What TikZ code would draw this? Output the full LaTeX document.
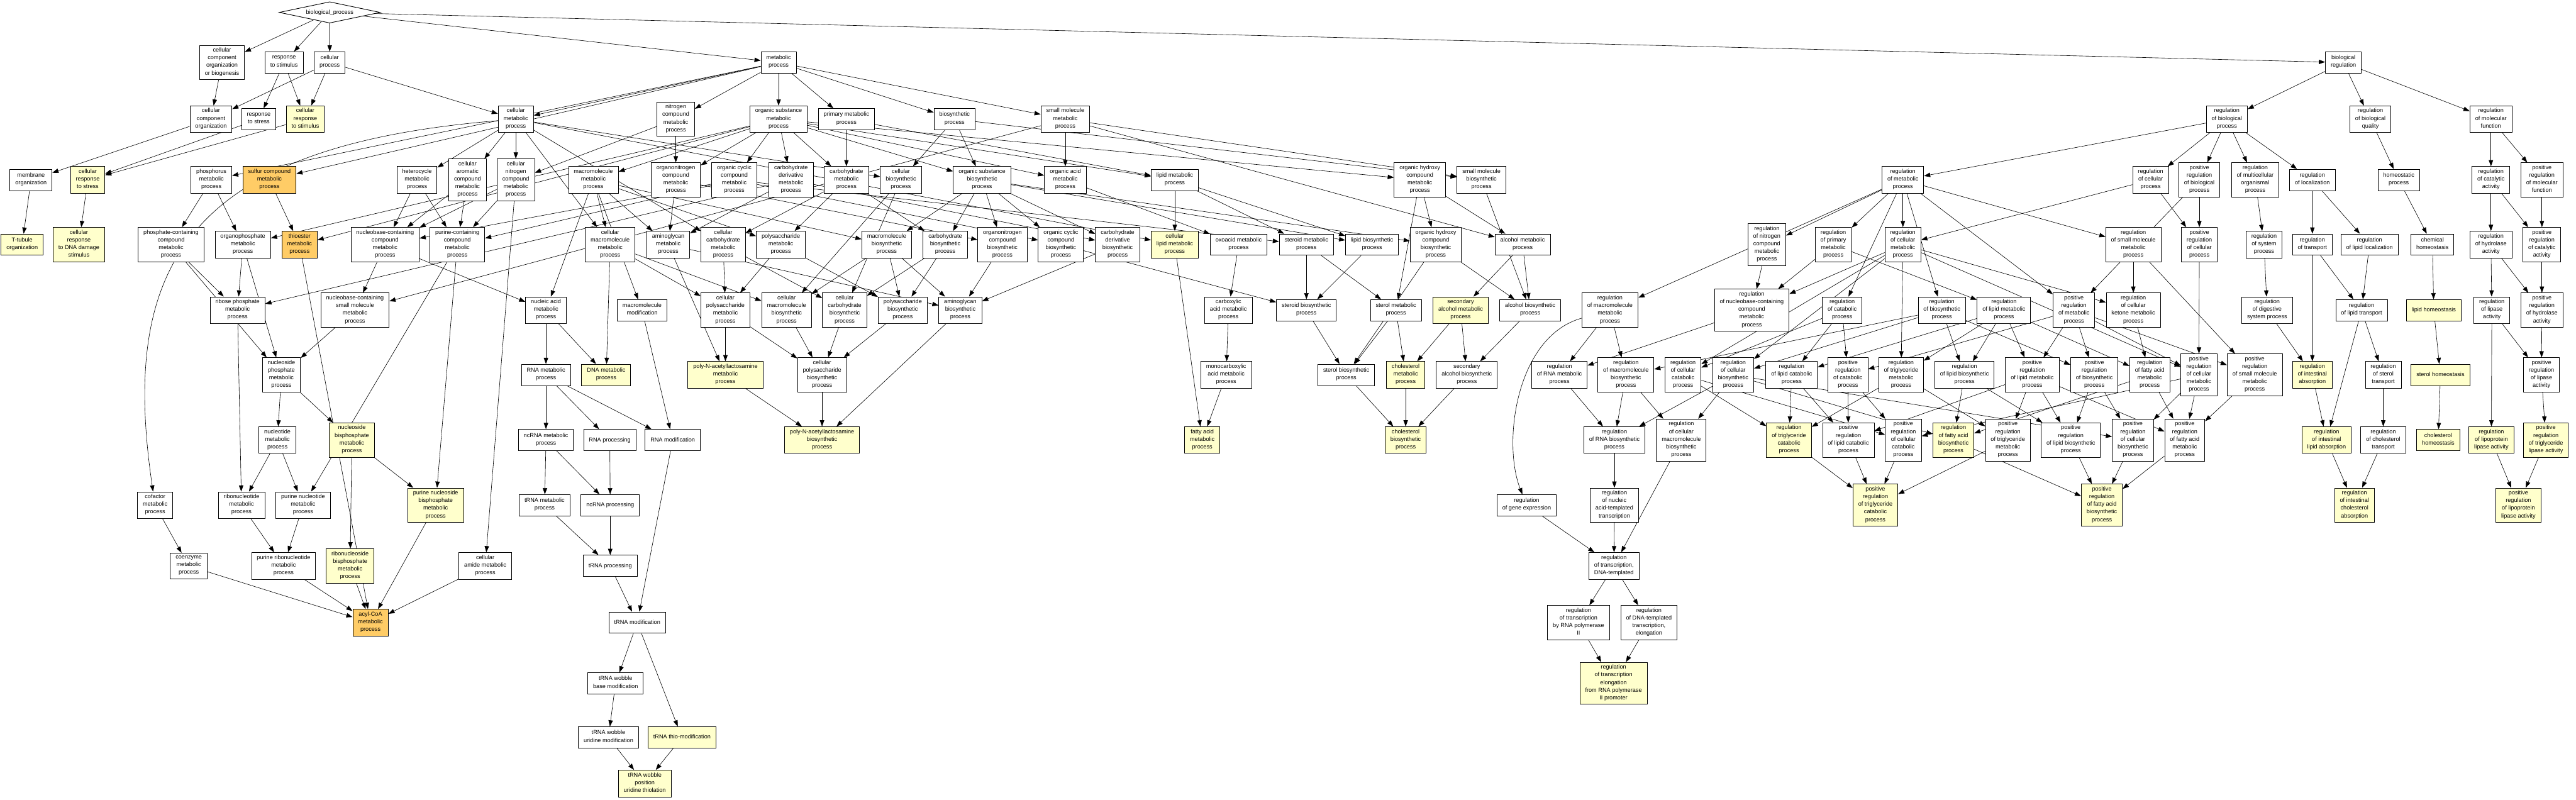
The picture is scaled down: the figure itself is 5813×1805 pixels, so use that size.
\documentclass[tikz,border=0pt]{standalone}
\usepackage{fontspec}
\newfontfamily\gofont{Liberation Sans}
\usetikzlibrary{arrows.meta,shapes.geometric,backgrounds}
\definecolor{goyel}{HTML}{FFFFCC}
\definecolor{goorg}{HTML}{FFCC66}
\begin{document}
\begin{tikzpicture}[x=1pt,y=-1pt,
 box/.style={draw, line width=1.3pt, fill=white, font={\gofont\fontsize{13}{17.3}\selectfont}, align=center, inner xsep=12pt, inner ysep=5.5pt, minimum height=48pt, execute at begin node=\strut, execute at end node=\strut},
 yel/.style={box, fill=goyel}, org/.style={box, fill=goorg},
 arr/.style={line width=0.9pt, -{Triangle[length=14pt,width=10pt]}}]
\begin{scope}[on background layer]
\fill[white] (0,0) rectangle (5813,1805);
\end{scope}
\useasboundingbox (0,0) rectangle (5813,1805);
% L0
\node[draw, diamond, aspect=4.75, line width=1.3pt, fill=white, minimum width=228pt, minimum height=48pt, inner sep=0pt, font={\gofont\fontsize{13}{17.3}\selectfont}] (bp) at (744,28) {biological\_process};
% L1
\node[box] (ccob) at (501,141) {cellular\\component\\organization\\or biogenesis};
\node[box] (rts) at (641,141) {response\\to stimulus};
\node[box] (cp) at (744,141) {cellular\\process};
\node[box] (mp) at (1757,141) {metabolic\\process};
\node[box] (breg) at (5288,141) {biological\\regulation};
% L2
\node[box] (cco) at (476,269) {cellular\\component\\organization};
\node[box] (rtstress) at (584,269) {response\\to stress};
\node[yel] (crts) at (689,269) {cellular\\response\\to stimulus};
\node[box] (cmp) at (1164,269) {cellular\\metabolic\\process};
\node[box] (ncmp) at (1525,269) {nitrogen\\compound\\metabolic\\process};
\node[box] (osmp) at (1757,269) {organic substance\\metabolic\\process};
\node[box] (pmp) at (1910,269) {primary metabolic\\process};
\node[box] (bsp) at (2154,269) {biosynthetic\\process};
\node[box] (smmp) at (2404,269) {small molecule\\metabolic\\process};
\node[box] (rbp) at (5025,269) {regulation\\of biological\\process};
\node[box] (rbq) at (5349,269) {regulation\\of biological\\quality};
\node[box] (rmf) at (5621,269) {regulation\\of molecular\\function};
% L3
\node[box] (memorg) at (70,406) {membrane\\organization};
\node[yel] (crstress) at (198,406) {cellular\\response\\to stress};
\node[box] (phosmp) at (477,406) {phosphorus\\metabolic\\process};
\node[org] (sulfmp) at (608,406) {sulfur compound\\metabolic\\process};
\node[box] (hetmp) at (941,406) {heterocycle\\metabolic\\process};
\node[box] (caromp) at (1055,406) {cellular\\aromatic\\compound\\metabolic\\process};
\node[box] (cncmp) at (1164,406) {cellular\\nitrogen\\compound\\metabolic\\process};
\node[box] (macmp) at (1339,406) {macromolecule\\metabolic\\process};
\node[box] (onmp) at (1525,406) {organonitrogen\\compound\\metabolic\\process};
\node[box] (ocmp) at (1657,406) {organic cyclic\\compound\\metabolic\\process};
\node[box] (cdmp) at (1785,406) {carbohydrate\\derivative\\metabolic\\process};
\node[box] (carbmp) at (1910,406) {carbohydrate\\metabolic\\process};
\node[box] (cbsp) at (2033,406) {cellular\\biosynthetic\\process};
\node[box] (osbp) at (2216,406) {organic substance\\biosynthetic\\process};
\node[box] (oamp) at (2404,406) {organic acid\\metabolic\\process};
\node[box] (lipmp) at (2651,406) {lipid metabolic\\process};
\node[box] (ohcmp) at (3204,406) {organic hydroxy\\compound\\metabolic\\process};
\node[box] (smbp) at (3343,406) {small molecule\\biosynthetic\\process};
\node[box] (rmp) at (4294,406) {regulation\\of metabolic\\process};
\node[box] (rcp) at (4853,406) {regulation\\of cellular\\process};
\node[box] (prbp) at (4963,406) {positive\\regulation\\of biological\\process};
\node[box] (rmop) at (5089,406) {regulation\\of multicellular\\organismal\\process};
\node[box] (rloc) at (5218,406) {regulation\\of localization};
\node[box] (homeo) at (5413,406) {homeostatic\\process};
\node[box] (rcat) at (5621,406) {regulation\\of catalytic\\activity};
\node[box] (prmf) at (5736,406) {positive\\regulation\\of molecular\\function};
% L4
\node[yel] (ttub) at (50,552) {T-tubule\\organization};
\node[yel] (crdna) at (178,552) {cellular\\response\\to DNA damage\\stimulus};
\node[box] (pccmp) at (386,552) {phosphate-containing\\compound\\metabolic\\process};
\node[box] (opmp) at (548,552) {organophosphate\\metabolic\\process};
\node[org] (thiomp) at (676,552) {thioester\\metabolic\\process};
\node[box] (nbccmp) at (869,552) {nucleobase-containing\\compound\\metabolic\\process};
\node[box] (purcmp) at (1032,552) {purine-containing\\compound\\metabolic\\process};
\node[box] (cmacmp) at (1377,552) {cellular\\macromolecule\\metabolic\\process};
\node[box] (amgmp) at (1508,552) {aminoglycan\\metabolic\\process};
\node[box] (ccarbmp) at (1632,552) {cellular\\carbohydrate\\metabolic\\process};
\node[box] (polysmp) at (1762,552) {polysaccharide\\metabolic\\process};
\node[box] (macbp) at (2001,552) {macromolecule\\biosynthetic\\process};
\node[box] (carbbp) at (2133,552) {carbohydrate\\biosynthetic\\process};
\node[box] (onbp) at (2262,552) {organonitrogen\\compound\\biosynthetic\\process};
\node[box] (ocbp) at (2394,552) {organic cyclic\\compound\\biosynthetic\\process};
\node[box] (cdbp) at (2522,552) {carbohydrate\\derivative\\biosynthetic\\process};
\node[yel] (clipmp) at (2651,552) {cellular\\lipid metabolic\\process};
\node[box] (oxomp) at (2795,552) {oxoacid metabolic\\process};
\node[box] (stdmp) at (2948,552) {steroid metabolic\\process};
\node[box] (lipbp) at (3096,552) {lipid biosynthetic\\process};
\node[box] (ohcbp) at (3240,552) {organic hydroxy\\compound\\biosynthetic\\process};
\node[box] (alcmp) at (3436,552) {alcohol metabolic\\process};
\node[box] (rnitro) at (3987,552) {regulation\\of nitrogen\\compound\\metabolic\\process};
\node[box] (rprim) at (4137,552) {regulation\\of primary\\metabolic\\process};
\node[box] (rcellmp) at (4294,552) {regulation\\of cellular\\metabolic\\process};
\node[box] (rsmmp) at (4814,552) {regulation\\of small molecule\\metabolic\\process};
\node[box] (prcp) at (4963,552) {positive\\regulation\\of cellular\\process};
\node[box] (rsys) at (5109,552) {regulation\\of system\\process};
\node[box] (rtrans) at (5218,552) {regulation\\of transport};
\node[box] (rlipl) at (5347,552) {regulation\\of lipid localization};
\node[box] (chemh) at (5489,552) {chemical\\homeostasis};
\node[box] (rhyd) at (5621,552) {regulation\\of hydrolase\\activity};
\node[box] (prcat) at (5736,552) {positive\\regulation\\of catalytic\\activity};
% L5
\node[box] (ribpmp) at (536,700) {ribose phosphate\\metabolic\\process};
\node[box] (nbcsmmp) at (801,700) {nucleobase-containing\\small molecule\\metabolic\\process};
\node[box] (namp) at (1232,700) {nucleic acid\\metabolic\\process};
\node[box] (macmod) at (1449,700) {macromolecule\\modification};
\node[box] (cpolysmp) at (1637,700) {cellular\\polysaccharide\\metabolic\\process};
\node[box] (cmacbp) at (1775,700) {cellular\\macromolecule\\biosynthetic\\process};
\node[box] (ccarbbp) at (1906,700) {cellular\\carbohydrate\\biosynthetic\\process};
\node[box] (polysbp) at (2037,700) {polysaccharide\\biosynthetic\\process};
\node[box] (amgbp) at (2167,700) {aminoglycan\\biosynthetic\\process};
\node[box] (caamp) at (2772,700) {carboxylic\\acid metabolic\\process};
\node[box] (stdbp) at (2948,700) {steroid biosynthetic\\process};
\node[box] (strmp) at (3150,700) {sterol metabolic\\process};
\node[yel] (salcmp) at (3296,700) {secondary\\alcohol metabolic\\process};
\node[box] (alcbp) at (3453,700) {alcohol biosynthetic\\process};
\node[box] (rmacmp) at (3633,700) {regulation\\of macromolecule\\metabolic\\process};
\node[box] (rnbc) at (3953,700) {regulation\\of nucleobase-containing\\compound\\metabolic\\process};
\node[box] (rcatab) at (4157,700) {regulation\\of catabolic\\process};
\node[box] (rbios) at (4382,700) {regulation\\of biosynthetic\\process};
\node[box] (rlipmp) at (4522,700) {regulation\\of lipid metabolic\\process};
\node[box] (prmp) at (4680,700) {positive\\regulation\\of metabolic\\process};
\node[box] (rcket) at (4814,700) {regulation\\of cellular\\ketone metabolic\\process};
\node[box] (rdig) at (5116,700) {regulation\\of digestive\\system process};
\node[box] (rlipt) at (5329,700) {regulation\\of lipid transport};
\node[yel] (liph) at (5492,700) {lipid homeostasis};
\node[box] (rlipase) at (5623,700) {regulation\\of lipase\\activity};
\node[box] (prhyd) at (5736,700) {positive\\regulation\\of hydrolase\\activity};
% L6
\node[box] (npmp) at (635,846) {nucleoside\\phosphate\\metabolic\\process};
\node[box] (rnamp) at (1232,846) {RNA metabolic\\process};
\node[yel] (dnamp) at (1368,846) {DNA metabolic\\process};
\node[yel] (pnalmp) at (1637,846) {poly-N-acetyllactosamine\\metabolic\\process};
\node[box] (cpolysbp) at (1855,846) {cellular\\polysaccharide\\biosynthetic\\process};
\node[box] (mcamp) at (2767,846) {monocarboxylic\\acid metabolic\\process};
\node[box] (strbp) at (3038,846) {sterol biosynthetic\\process};
\node[yel] (cholmp) at (3172,846) {cholesterol\\metabolic\\process};
\node[box] (salcbp) at (3310,846) {secondary\\alcohol biosynthetic\\process};
\node[box] (rrnamp) at (3519,846) {regulation\\of RNA metabolic\\process};
\node[box] (rmacbp) at (3669,846) {regulation\\of macromolecule\\biosynthetic\\process};
\node[box] (rccatab) at (3798,846) {regulation\\of cellular\\catabolic\\process};
\node[box] (rcbp) at (3911,846) {regulation\\of cellular\\biosynthetic\\process};
\node[box] (rlipcat) at (4043,846) {regulation\\of lipid catabolic\\process};
\node[box] (prcatab) at (4170,846) {positive\\regulation\\of catabolic\\process};
\node[box] (rtgmp) at (4290,846) {regulation\\of triglyceride\\metabolic\\process};
\node[box] (rlipbp) at (4433,846) {regulation\\of lipid biosynthetic\\process};
\node[box] (prlipmp) at (4586,846) {positive\\regulation\\of lipid metabolic\\process};
\node[box] (prbios) at (4726,846) {positive\\regulation\\of biosynthetic\\process};
\node[box] (rfamp) at (4851,846) {regulation\\of fatty acid\\metabolic\\process};
\node[box] (prcellmp) at (4962,846) {positive\\regulation\\of cellular\\metabolic\\process};
\node[box] (prsmmp) at (5088,846) {positive\\regulation\\of small molecule\\metabolic\\process};
\node[yel] (rintabs) at (5218,846) {regulation\\of intestinal\\absorption};
\node[box] (rstrt) at (5378,846) {regulation\\of sterol\\transport};
\node[yel] (strh) at (5507,846) {sterol homeostasis};
\node[box] (prlipase) at (5735,846) {positive\\regulation\\of lipase\\activity};
% L7
\node[box] (ntmp) at (626,993) {nucleotide\\metabolic\\process};
\node[yel] (nbpmp) at (794,993) {nucleoside\\bisphosphate\\metabolic\\process};
\node[box] (ncrnamp) at (1232,993) {ncRNA metabolic\\process};
\node[box] (rnaproc) at (1376,993) {RNA processing};
\node[box] (rnamod) at (1518,993) {RNA modification};
\node[yel] (pnalbp) at (1855,993) {poly-N-acetyllactosamine\\biosynthetic\\process};
\node[yel] (famp) at (2713,993) {fatty acid\\metabolic\\process};
\node[yel] (cholbp) at (3172,993) {cholesterol\\biosynthetic\\process};
\node[box] (rrnabp) at (3643,993) {regulation\\of RNA biosynthetic\\process};
\node[box] (rcmacbp) at (3794,993) {regulation\\of cellular\\macromolecule\\biosynthetic\\process};
\node[yel] (rtgcat) at (4037,993) {regulation\\of triglyceride\\catabolic\\process};
\node[box] (prlipcat) at (4171,993) {positive\\regulation\\of lipid catabolic\\process};
\node[box] (prccatab) at (4295,993) {positive\\regulation\\of cellular\\catabolic\\process};
\node[yel] (rfabp) at (4408,993) {regulation\\of fatty acid\\biosynthetic\\process};
\node[box] (prtgmp) at (4531,993) {positive\\regulation\\of triglyceride\\metabolic\\process};
\node[box] (prlipbp) at (4673,993) {positive\\regulation\\of lipid biosynthetic\\process};
\node[box] (prcbp) at (4813,993) {positive\\regulation\\of cellular\\biosynthetic\\process};
\node[box] (prfamp) at (4930,993) {positive\\regulation\\of fatty acid\\metabolic\\process};
\node[yel] (rintlip) at (5250,993) {regulation\\of intestinal\\lipid absorption};
\node[box] (rcholt) at (5378,993) {regulation\\of cholesterol\\transport};
\node[yel] (cholh) at (5502,993) {cholesterol\\homeostasis};
\node[yel] (rlpl) at (5622,993) {regulation\\of lipoprotein\\lipase activity};
\node[yel] (prtgl) at (5745,993) {positive\\regulation\\of triglyceride\\lipase activity};
% L8
\node[box] (cofmp) at (350,1140) {cofactor\\metabolic\\process};
\node[box] (rntmp) at (545,1140) {ribonucleotide\\metabolic\\process};
\node[box] (pntmp) at (684,1140) {purine nucleotide\\metabolic\\process};
\node[yel] (pnbpmp) at (983,1140) {purine nucleoside\\bisphosphate\\metabolic\\process};
\node[box] (trnamp) at (1229,1140) {tRNA metabolic\\process};
\node[box] (ncrnaproc) at (1377,1140) {ncRNA processing};
\node[box] (rgexp) at (3445,1140) {regulation\\of gene expression};
\node[box] (rnatt) at (3643,1140) {regulation\\of nucleic\\acid-templated\\transcription};
\node[yel] (prtgcat) at (4232,1140) {positive\\regulation\\of triglyceride\\catabolic\\process};
\node[yel] (prfabp) at (4743,1140) {positive\\regulation\\of fatty acid\\biosynthetic\\process};
\node[yel] (rintchol) at (5313,1140) {regulation\\of intestinal\\cholesterol\\absorption};
\node[yel] (prlpl) at (5683,1140) {positive\\regulation\\of lipoprotein\\lipase activity};
% L9
\node[box] (coemp) at (426,1277) {coenzyme\\metabolic\\process};
\node[box] (prnmp) at (640,1277) {purine ribonucleotide\\metabolic\\process};
\node[yel] (rnbpmp) at (790,1277) {ribonucleoside\\bisphosphate\\metabolic\\process};
\node[box] (camp) at (1095,1277) {cellular\\amide metabolic\\process};
\node[box] (trnaproc) at (1377,1277) {tRNA processing};
\node[box] (rtdna) at (3642,1277) {regulation\\of transcription,\\DNA-templated};
% L10
\node[org] (acoa) at (836,1405) {acyl-CoA\\metabolic\\process};
\node[box] (trnamod) at (1438,1405) {tRNA modification};
\node[box] (rtpol) at (3562,1405) {regulation\\of transcription\\by RNA polymerase\\II};
\node[box] (rdtel) at (3721,1405) {regulation\\of DNA-templated\\transcription,\\elongation};
% L11
\node[box] (twbm) at (1389,1542) {tRNA wobble\\base modification};
\node[yel] (rtel) at (3641,1542) {regulation\\of transcription\\elongation\\from RNA polymerase\\II promoter};
% L12
\node[box] (twum) at (1373,1664) {tRNA wobble\\uridine modification};
\node[yel] (ttm) at (1539,1664) {tRNA thio-modification};
% L13
\node[yel] (twput) at (1455,1768) {tRNA wobble\\position\\uridine thiolation};

\begin{scope}[on background layer]
\foreach \a/\b in {bp/ccob,bp/rts,bp/cp,bp/mp,bp/breg,
 ccob/cco,cp/cco,cp/crts,cp/cmp,rts/rtstress,rts/crts,cco/memorg,rtstress/crstress,crts/crstress,memorg/ttub,crstress/crdna,
 mp/cmp,mp/ncmp,mp/osmp,mp/pmp,mp/bsp,mp/smmp,mp/phosmp,mp/sulfmp,
 breg/rbp,breg/rbq,breg/rmf,
 cmp/hetmp,cmp/caromp,cmp/cncmp,cmp/cmacmp,cmp/ccarbmp,cmp/cbsp,cmp/clipmp,
 ncmp/cncmp,ncmp/onmp,
 osmp/macmp,osmp/onmp,osmp/ocmp,osmp/cdmp,osmp/carbmp,osmp/osbp,osmp/oamp,osmp/lipmp,osmp/ohcmp,osmp/opmp,osmp/thiomp,
 pmp/carbmp,pmp/lipmp,bsp/cbsp,bsp/osbp,bsp/smbp,smmp/oamp,smmp/smbp,smmp/alcmp,smmp/nbcsmmp,
 phosmp/pccmp,phosmp/opmp,sulfmp/thiomp,hetmp/nbccmp,hetmp/purcmp,caromp/nbccmp,caromp/purcmp,
 cncmp/nbccmp,cncmp/purcmp,cncmp/camp,ocmp/nbccmp,ocmp/purcmp,ocmp/stdmp,ocmp/ocbp,
 macmp/cmacmp,macmp/amgmp,macmp/polysmp,macmp/macbp,macmp/namp,macmp/macmod,
 onmp/amgmp,onmp/onbp,cdmp/amgmp,cdmp/cdbp,cdmp/ribpmp,carbmp/ccarbmp,carbmp/polysmp,carbmp/carbbp,
 cbsp/cmacbp,cbsp/ccarbbp,osbp/macbp,osbp/carbbp,osbp/onbp,osbp/ocbp,osbp/cdbp,osbp/lipbp,osbp/ohcbp,
 oamp/oxomp,lipmp/clipmp,lipmp/stdmp,lipmp/lipbp,ohcmp/ohcbp,ohcmp/alcmp,ohcmp/strmp,smbp/alcbp,
 rbp/rmp,rbp/rcp,rbp/prbp,rbp/rmop,rbp/rloc,rbq/homeo,rmf/rcat,rmf/prmf,
 rmp/rnitro,rmp/rprim,rmp/rcellmp,rmp/rsmmp,rmp/rmacmp,rmp/rcatab,rmp/rbios,rmp/prmp,
 rcp/rcellmp,rcp/prcp,prbp/prcp,prbp/prmp,rmop/rsys,rloc/rtrans,rloc/rlipl,homeo/chemh,rcat/rhyd,rcat/prcat,prmf/prcat,
 pccmp/ribpmp,pccmp/npmp,opmp/ribpmp,opmp/npmp,thiomp/acoa,nbccmp/nbcsmmp,nbccmp/namp,purcmp/pntmp,purcmp/pnbpmp,
 cmacmp/cpolysmp,cmacmp/cmacbp,cmacmp/dnamp,amgmp/pnalmp,amgmp/amgbp,ccarbmp/cpolysmp,ccarbmp/ccarbbp,
 polysmp/cpolysmp,polysmp/polysbp,macbp/cmacbp,macbp/polysbp,macbp/amgbp,carbbp/ccarbbp,carbbp/polysbp,
 onbp/amgbp,ocbp/stdbp,cdbp/amgbp,clipmp/famp,oxomp/caamp,stdmp/stdbp,stdmp/strmp,lipbp/stdbp,
 ohcbp/alcbp,ohcbp/strbp,alcmp/salcmp,alcmp/alcbp,
 rnitro/rnbc,rprim/rnbc,rprim/rlipmp,rcellmp/rnbc,rcellmp/rcket,rcellmp/rccatab,rcellmp/rcbp,rcellmp/rtgmp,rcellmp/prcellmp,
 rsmmp/rcket,rsmmp/prsmmp,prcp/prcellmp,rsys/rdig,rtrans/rlipt,rtrans/rintabs,rlipl/rlipt,chemh/liph,
 rhyd/rlipase,rhyd/prhyd,prcat/prhyd,
 ribpmp/rntmp,nbcsmmp/npmp,namp/rnamp,namp/dnamp,macmod/rnamod,cpolysmp/pnalmp,cpolysmp/cpolysbp,
 cmacbp/cpolysbp,ccarbbp/cpolysbp,polysbp/cpolysbp,amgbp/pnalbp,caamp/mcamp,stdbp/strbp,strmp/strbp,strmp/cholmp,
 salcmp/cholmp,salcmp/salcbp,alcbp/salcbp,rmacmp/rrnamp,rmacmp/rmacbp,rnbc/rrnamp,
 rcatab/rccatab,rcatab/rlipcat,rcatab/prcatab,rbios/rcbp,rbios/rmacbp,rbios/rlipbp,rbios/prbios,
 rlipmp/rlipcat,rlipmp/rtgmp,rlipmp/rlipbp,rlipmp/prlipmp,rlipmp/rfamp,
 prmp/prcatab,prmp/prlipmp,prmp/prbios,prmp/prcellmp,prmp/prsmmp,rcket/rfamp,rdig/rintabs,rlipt/rstrt,rlipt/rintlip,
 liph/strh,rlipase/prlipase,rlipase/rlpl,prhyd/prlipase,
 npmp/ntmp,npmp/nbpmp,rnamp/ncrnamp,rnamp/rnaproc,rnamp/rnamod,pnalmp/pnalbp,cpolysbp/pnalbp,mcamp/famp,
 strbp/cholbp,cholmp/cholbp,salcbp/cholbp,rrnamp/rrnabp,rmacbp/rrnabp,rmacbp/rcmacbp,
 rcbp/rrnabp,rcbp/rcmacbp,rcbp/rfabp,rcbp/prcbp,rccatab/rtgcat,rccatab/prccatab,rlipcat/rtgcat,rlipcat/prlipcat,
 prcatab/prlipcat,prcatab/prccatab,rtgmp/rtgcat,rtgmp/prtgmp,rlipbp/rfabp,rlipbp/prlipbp,
 prlipmp/prlipcat,prlipmp/prtgmp,prlipmp/prlipbp,prlipmp/prfamp,prbios/prlipbp,prbios/prcbp,
 rfamp/rfabp,rfamp/prfamp,prcellmp/prccatab,prcellmp/prcbp,prcellmp/prfamp,prsmmp/prfamp,
 rintabs/rintlip,rstrt/rcholt,strh/cholh,prlipase/prtgl,
 ntmp/rntmp,ntmp/pntmp,nbpmp/pnbpmp,nbpmp/rnbpmp,ncrnamp/trnamp,ncrnamp/ncrnaproc,rnaproc/ncrnaproc,rnamod/trnamod,
 rrnabp/rnatt,rcmacbp/rtdna,rtgcat/prtgcat,prlipcat/prtgcat,prccatab/prtgcat,prtgmp/prtgcat,
 rfabp/prfabp,prlipbp/prfabp,prcbp/prfabp,prfamp/prfabp,rintlip/rintchol,rcholt/rintchol,rlpl/prlpl,prtgl/prlpl,
 cofmp/coemp,rntmp/prnmp,pntmp/prnmp,pnbpmp/acoa,trnamp/trnaproc,ncrnaproc/trnaproc,rgexp/rtdna,rnatt/rtdna,
 coemp/acoa,prnmp/acoa,rnbpmp/acoa,camp/acoa,trnaproc/trnamod,rtdna/rtpol,rtdna/rdtel,
 trnamod/twbm,trnamod/ttm,rtpol/rtel,rdtel/rtel,twbm/twum,twum/twput,ttm/twput}
 {\draw[arr] (\a) -- (\b);}
\draw[arr] (cmp) .. controls (420,330) and (270,600) .. (cofmp);
\draw[arr] (rmacmp) .. controls (3420,760) and (3390,1000) .. (rgexp);
\end{scope}
\end{tikzpicture}
\end{document}
